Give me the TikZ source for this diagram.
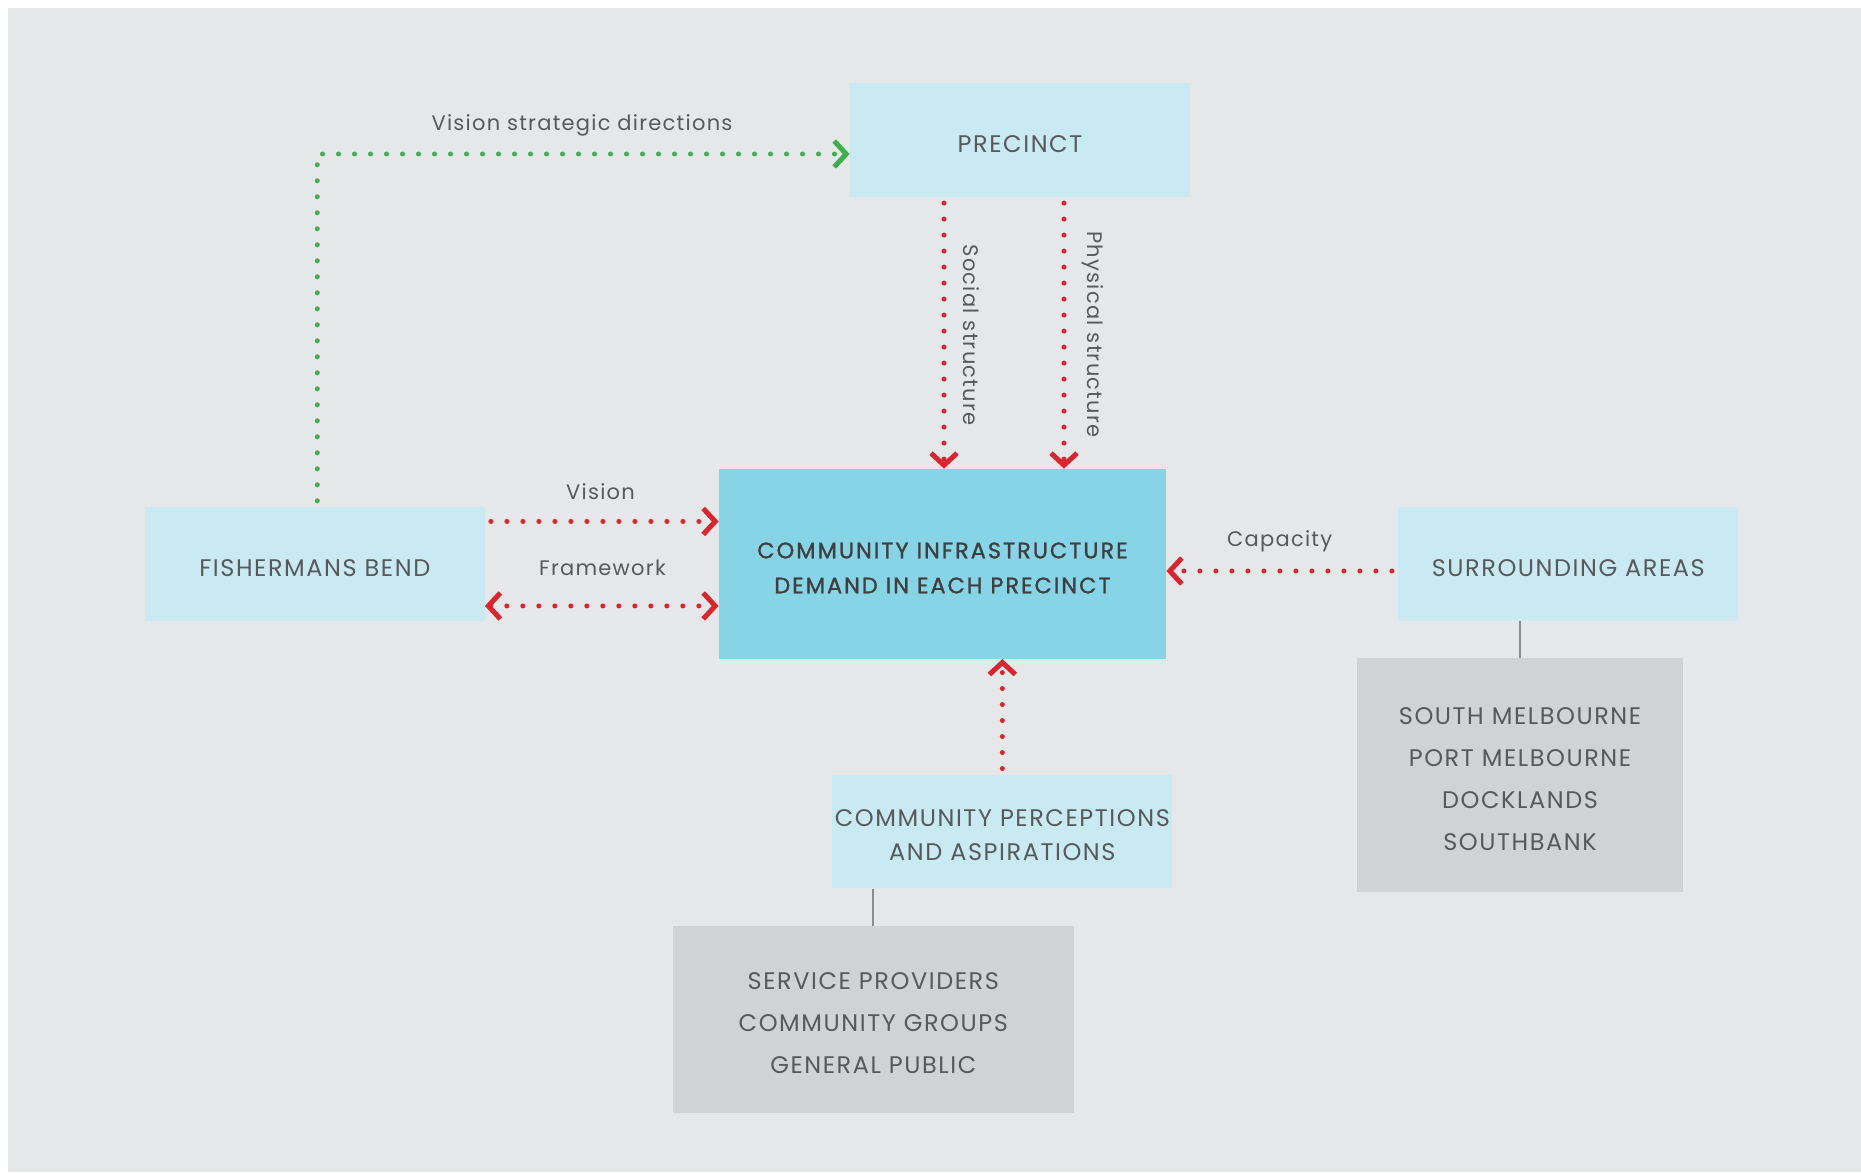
\documentclass[tikz,border=0pt]{standalone}
\usepackage{fontspec}
\setmainfont{Poppins}
\newfontfamily\boxfont{Poppins}[LetterSpace=6.5]
\newfontfamily\medfont{Poppins}[FakeBold=1.2, LetterSpace=9]
\newfontfamily\labfont{Poppins}[LetterSpace=6]
\usetikzlibrary{arrows.meta}
\definecolor{bg}{HTML}{E6E7E9}
\definecolor{lightbox}{HTML}{C9EAF3}
\definecolor{mainbox}{HTML}{86D4E6}
\definecolor{graybox}{HTML}{D1D2D4}
\definecolor{txt}{HTML}{58595B}
\definecolor{dtxt}{HTML}{3F3F41}
\definecolor{rd}{HTML}{D7262F}
\definecolor{gr}{HTML}{3DB04B}
\definecolor{conn}{HTML}{8C8C8E}
\newcommand\tup{\rule{0pt}{12.4pt}}
\newcommand\tupm{\rule{0pt}{12pt}}
\tikzset{
  boxbase/.style={inner sep=0pt, align=center, text=txt,
    font=\boxfont\fontsize{12pt}{17pt}\selectfont},
  lbox/.style={boxbase, fill=lightbox, minimum width=170pt, minimum height=56.7pt},
  mbox/.style={boxbase, fill=mainbox, minimum width=223.5pt, minimum height=94.85pt,
    text=dtxt, font=\medfont\fontsize{11.2pt}{17.5pt}\selectfont},
  gbox/.style={boxbase, fill=graybox, font=\boxfont\fontsize{12pt}{21pt}\selectfont},
  lbl/.style={text=txt, inner sep=0pt, font=\labfont\fontsize{10.5pt}{12pt}\selectfont},
  dotline/.style={line width=2.5pt, line cap=round, dash pattern=on 0pt off 8pt},
  chev/.tip={Straight Barb[sharp, length=6pt, width=13pt]},
  redarr/.style={dotline, draw=rd, shorten <=3pt, -chev},
  redarr2/.style={dotline, draw=rd, chev-chev},
  grarr/.style={dotline, draw=gr, shorten <=3pt, -chev},
  connline/.style={draw=conn, line width=1pt}
}
\begin{document}
\begin{tikzpicture}[x=0.5pt,y=-0.5pt]
\useasboundingbox (0,0) rectangle (1861,1172);
\fill[bg] (8,8) rectangle (1861,1172);

\node[lbox] (prec) at (1020,140) {\tup PRECINCT};
\node[mbox] (main) at (942.5,563.85) {\tupm COMMUNITY INFRASTRUCTURE\\DEMAND IN EACH PRECINCT};
\node[lbox, minimum width=169.75pt] (fb) at (314.75,563.85) {\tup FISHERMANS BEND};
\node[lbox] (sa) at (1568.3,564) {\tup SURROUNDING AREAS};
\node[lbox] (cp) at (1002.35,831.65) {\tup COMMUNITY PERCEPTIONS\\AND ASPIRATIONS};
\node[gbox, minimum width=163pt, minimum height=116.85pt] (gb1) at (1520,774.85)
  {\tup SOUTH MELBOURNE\\PORT MELBOURNE\\DOCKLANDS\\SOUTHBANK};
\node[gbox, minimum width=200.3pt, minimum height=93.35pt] (gb2) at (873.3,1019.35)
  {\tup SERVICE PROVIDERS\\COMMUNITY GROUPS\\GENERAL PUBLIC};

% labels
\node[lbl] (lvsd) at (582,125) {Vision strategic directions};
\node[lbl] (lvis) at (600.5,491.7) {Vision};
\node[lbl] (lfw) at (602.5,568) {Framework};
\node[lbl] (lcap) at (1279.7,541.7) {Capacity};
\node[lbl, rotate=-90] (lsoc) at (971.7,335) {Social structure};
\node[lbl, rotate=-90] (lphy) at (1092.7,334.5) {Physical structure};

% connectors
\coordinate (gs) at ([xshift=1.25pt]fb.north);
\coordinate (ge) at ([yshift=-7pt]prec.west);
\draw[grarr] (gs) |- (ge);

\coordinate (vs) at ([yshift=-7.35pt]fb.north east);
\draw[redarr] (vs) -- (vs -| main.west);

\coordinate (fs) at ([yshift=7.5pt]fb.south east);
\draw[redarr2] (fs) -- (fs -| main.west);

\coordinate (cs) at ([yshift=-3.5pt]sa.west);
\draw[redarr] (cs) -- (cs -| main.east);

\coordinate (ss) at ([xshift=-38pt]prec.south);
\draw[redarr] (ss) -- (ss |- main.north);

\coordinate (ps) at ([xshift=22pt]prec.south);
\draw[redarr] (ps) -- (ps |- main.north);

\draw[redarr] (cp.north) -- (cp.north |- main.south);

\draw[connline] (sa.south -| gb1.north) -- (gb1.north);
\draw[connline] (cp.south -| gb2.north) -- (gb2.north);
\end{tikzpicture}
\end{document}
